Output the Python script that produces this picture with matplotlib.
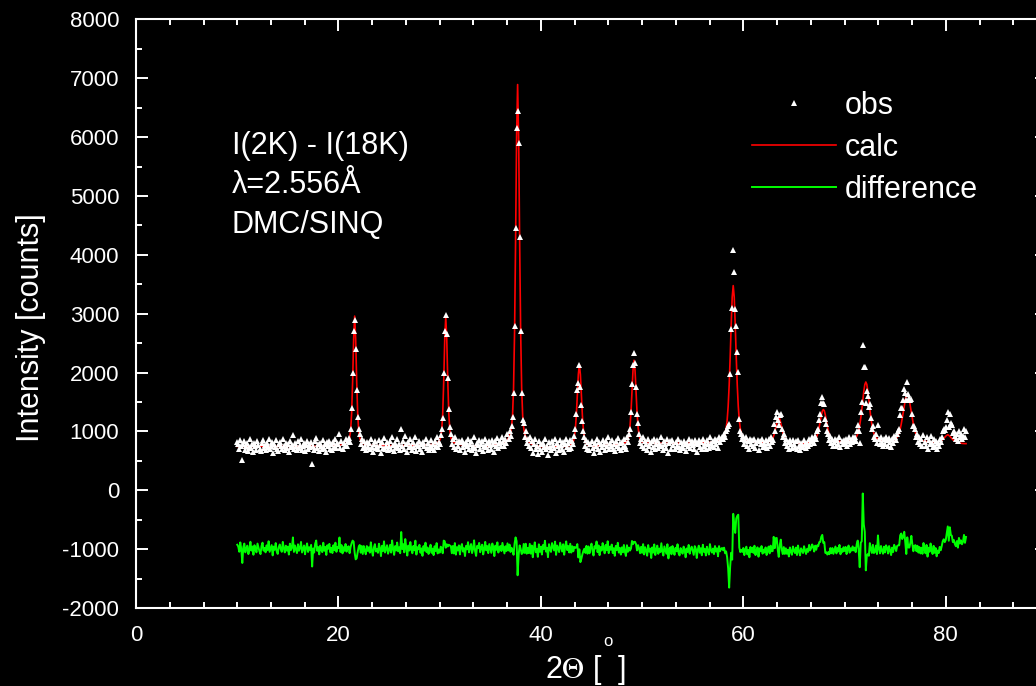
import numpy as np
import matplotlib.pyplot as plt
from matplotlib.ticker import MultipleLocator

plt.rcParams['font.family'] = ['Liberation Sans', 'DejaVu Sans']
plt.rcParams['axes.unicode_minus'] = False
plt.rcParams['mathtext.fontset'] = 'stix'

# 2theta scan, 10..82 deg in 0.1 deg steps
two_theta = np.round(np.arange(10.0, 82.05, 0.1), 1)

# observed intensity, one row per degree
obs = [
    820, 790, 700, 860, 745, 510, 780, 840, 690, 760,  # 10
    805, 660, 735, 870, 720, 790, 650, 812, 745, 690,  # 11
    840, 775, 705, 660, 800, 855, 720, 765, 690, 810,  # 12
    730, 880, 700, 760, 815, 640, 790, 735, 850, 705,  # 13
    665, 780, 825, 745, 700, 870, 760, 690, 805, 720,  # 14
    790, 655, 840, 730, 775, 946, 700, 810, 745, 680,  # 15
    830, 720, 765, 870, 690, 750, 810, 660, 775, 845,  # 16
    700, 780, 735, 820, 453, 760, 690, 840, 895, 720,  # 17
    785, 660, 810, 745, 700, 860, 725, 790, 655, 820,  # 18
    760, 845, 700, 780, 690, 825, 740, 870, 715, 800,  # 19
    780, 963, 720, 840, 700, 810, 755, 880, 760, 845,  # 20
    890, 820, 1050, 1400, 2000, 2700, 2900, 2400, 1700, 1250,  # 21
    1050, 960, 780, 870, 720, 845, 760, 690, 825, 740,  # 22
    800, 705, 880, 735, 650, 790, 845, 720, 760, 695,  # 23
    850, 770, 640, 815, 725, 890, 700, 760, 825, 680,  # 24
    745, 830, 700, 905, 770, 660, 810, 735, 870, 720,  # 25
    790, 690, 1050, 760, 845, 705, 930, 780, 650, 820,  # 26
    735, 880, 760, 690, 815, 740, 905, 670, 795, 760,  # 27
    840, 705, 780, 655, 820, 745, 880, 720, 800, 690,  # 28
    760, 850, 715, 790, 680, 835, 760, 905, 740, 820,  # 29
    790, 940, 1036, 1235, 2000, 2700, 2974, 2650, 1900, 1380,  # 30
    1080, 950, 780, 880, 740, 905, 700, 820, 760, 845,  # 31
    690, 815, 860, 730, 785, 650, 820, 760, 880, 705,  # 32
    790, 845, 690, 760, 905, 720, 640, 810, 770, 860,  # 33
    700, 785, 830, 665, 760, 880, 735, 810, 690, 845,  # 34
    770, 700, 860, 795, 650, 830, 760, 890, 720, 810,  # 35
    840, 760, 905, 820, 745, 880, 810, 960, 870, 1000,  # 36
    930, 1100, 1250, 1650, 2800, 4450, 6150, 6450, 5900, 4300,  # 37
    2700, 1650, 1200, 1150, 900, 1000, 800, 870, 760, 905,  # 38
    720, 845, 640, 790, 880, 705, 760, 620, 830, 700,  # 39
    785, 650, 810, 740, 880, 695, 760, 600, 820, 730,  # 40
    690, 840, 775, 715, 865, 640, 800, 760, 690, 850,  # 41
    770, 700, 825, 650, 790, 880, 735, 810, 705, 860,  # 42
    720, 845, 790, 930, 1050, 1300, 1700, 1830, 2135, 1750,  # 43
    1450, 1180, 1000, 900, 760, 850, 700, 815, 690, 780,  # 44
    845, 720, 640, 800, 760, 880, 700, 815, 650, 790,  # 45
    730, 860, 780, 690, 835, 745, 900, 700, 810, 760,  # 46
    850, 705, 790, 660, 830, 760, 885, 720, 800, 690,  # 47
    820, 740, 870, 760, 700, 900, 820, 960, 1050, 1331,  # 48
    1813, 2124, 2333, 2163, 1760, 1300, 1144, 950, 800, 880,  # 49
    760, 900, 720, 840, 785, 690, 870, 760, 810, 650,  # 50
    830, 740, 880, 700, 795, 860, 720, 810, 750, 900,  # 51
    760, 690, 845, 780, 720, 880, 640, 800, 830, 710,  # 52
    850, 770, 700, 820, 760, 880, 730, 690, 815, 760,  # 53
    720, 840, 790, 660, 810, 750, 870, 720, 800, 840,  # 54
    770, 700, 850, 810, 650, 790, 860, 740, 820, 700,  # 55
    880, 760, 810, 700, 850, 780, 720, 900, 800, 760,  # 56
    830, 740, 880, 790, 850, 720, 900, 820, 870, 900,  # 57
    880, 950, 900, 1010, 1050, 1100, 1130, 1971, 2748, 3104,  # 58
    4078, 3710, 3087, 2787, 2350, 2011, 1218, 1000, 960, 880,  # 59
    920, 780, 860, 900, 760, 830, 700, 870, 780, 850,  # 60
    760, 880, 720, 800, 850, 690, 830, 780, 870, 740,  # 61
    810, 760, 850, 720, 800, 870, 760, 900, 820, 850,  # 62
    1133, 1000, 1246, 1331, 1200, 1107, 1280, 1303, 1050, 900,  # 63
    960, 800, 870, 760, 820, 700, 850, 780, 720, 860,  # 64
    790, 740, 830, 700, 860, 760, 690, 810, 770, 730,  # 65
    850, 780, 720, 810, 760, 880, 790, 830, 900, 870,  # 66
    800, 920, 880, 1000, 1050, 1200, 1300, 1480, 1586, 1478,  # 67
    1473, 1218, 1133, 1000, 960, 860, 920, 800, 870, 760,  # 68
    820, 880, 760, 850, 790, 900, 740, 830, 780, 860,  # 69
    800, 870, 750, 840, 900, 780, 860, 820, 900, 840,  # 70
    900, 840, 1000, 1105, 1000, 800, 1331, 1500, 2470, 2100,  # 71
    2090, 1480, 1688, 1600, 1416, 1473, 1235, 1048, 1100, 900,  # 72
    880, 960, 800, 1105, 870, 780, 900, 820, 760, 880,  # 73
    780, 900, 860, 760, 890, 820, 740, 870, 800, 930,  # 74
    900, 850, 960, 1000, 1050, 1280, 1390, 1390, 1540, 1728,  # 75
    1650, 1530, 1841, 1640, 1560, 1540, 1550, 1300, 1087, 1100,  # 76
    1050, 900, 960, 820, 900, 780, 870, 760, 940, 820,  # 77
    760, 900, 700, 850, 780, 920, 810, 740, 880, 760,  # 78
    840, 700, 800, 760, 870, 820, 900, 1000, 1050, 1020,  # 79
    1076, 1200, 1331, 1076, 1290, 1141, 1105, 980, 1000, 920,  # 80
    880, 960, 840, 1000, 900, 950, 880, 920, 1036, 900,  # 81
    1000,  # 82
]

# calculated profile on the same grid
calc = [
    745, 745, 745, 745, 745, 745, 745, 745, 745, 745,  # 10
    745, 745, 745, 745, 745, 745, 745, 745, 745, 745,  # 11
    745, 745, 745, 745, 745, 745, 745, 745, 745, 745,  # 12
    746, 746, 746, 746, 746, 746, 746, 746, 746, 746,  # 13
    746, 746, 746, 746, 746, 746, 746, 746, 746, 746,  # 14
    747, 747, 747, 747, 747, 747, 747, 747, 747, 747,  # 15
    747, 747, 747, 747, 747, 747, 747, 747, 747, 747,  # 16
    748, 748, 748, 748, 748, 748, 748, 748, 748, 748,  # 17
    749, 749, 750, 750, 751, 751, 752, 752, 753, 753,  # 18
    754, 755, 755, 756, 757, 758, 759, 760, 761, 762,  # 19
    765, 765, 768, 770, 772, 777, 783, 792, 803, 816,  # 20
    841, 889, 1011, 1300, 1855, 2573, 2960, 2573, 1855, 1300,  # 21
    1011, 889, 841, 816, 803, 792, 783, 777, 772, 770,  # 22
    768, 765, 764, 763, 762, 761, 760, 759, 759, 758,  # 23
    758, 758, 758, 758, 758, 758, 758, 758, 758, 758,  # 24
    758, 758, 758, 758, 758, 758, 758, 758, 758, 758,  # 25
    759, 759, 759, 759, 759, 759, 759, 759, 759, 759,  # 26
    759, 759, 760, 760, 760, 761, 761, 762, 762, 763,  # 27
    766, 767, 767, 768, 768, 769, 770, 770, 771, 772,  # 28
    773, 775, 778, 780, 782, 786, 793, 802, 813, 826,  # 29
    850, 898, 1018, 1305, 1855, 2567, 2950, 2567, 1855, 1305,  # 30
    1018, 898, 850, 826, 813, 802, 793, 786, 782, 780,  # 31
    779, 776, 773, 771, 769, 767, 765, 763, 762, 760,  # 32
    759, 758, 757, 756, 756, 755, 755, 754, 754, 754,  # 33
    753, 754, 754, 755, 755, 756, 756, 757, 758, 759,  # 34
    762, 763, 764, 766, 768, 770, 772, 775, 778, 781,  # 35
    787, 793, 799, 806, 818, 830, 842, 861, 892, 922,  # 36
    978, 1076, 1279, 1746, 2706, 4250, 6015, 6894, 6001, 4236,  # 37
    2692, 1732, 1265, 1062, 964, 908, 878, 847, 828, 815,  # 38
    796, 784, 777, 770, 764, 758, 755, 751, 748, 746,  # 39
    742, 741, 740, 739, 738, 737, 737, 736, 735, 735,  # 40
    737, 737, 737, 737, 737, 737, 738, 739, 740, 741,  # 41
    740, 741, 742, 745, 745, 748, 752, 756, 762, 769,  # 42
    779, 795, 826, 893, 1029, 1270, 1614, 1971, 2137, 1971,  # 43
    1613, 1269, 1028, 892, 825, 794, 778, 768, 761, 755,  # 44
    751, 749, 748, 749, 749, 750, 751, 751, 752, 754,  # 45
    755, 757, 759, 761, 763, 765, 766, 768, 768, 770,  # 46
    772, 772, 773, 773, 774, 775, 777, 779, 780, 783,  # 47
    789, 794, 799, 806, 816, 834, 865, 933, 1074, 1321,  # 48
    1674, 2039, 2210, 2039, 1675, 1322, 1076, 936, 869, 839,  # 49
    823, 815, 810, 807, 804, 802, 801, 802, 801, 800,  # 50
    800, 799, 800, 800, 800, 800, 800, 800, 800, 800,  # 51
    799, 799, 798, 798, 798, 797, 797, 797, 797, 797,  # 52
    797, 797, 797, 797, 797, 797, 797, 797, 797, 797,  # 53
    797, 797, 797, 798, 798, 798, 798, 798, 798, 798,  # 54
    798, 798, 799, 799, 800, 800, 801, 802, 803, 804,  # 55
    805, 806, 807, 808, 809, 811, 812, 814, 816, 818,  # 56
    820, 824, 827, 831, 836, 841, 848, 856, 865, 880,  # 57
    898, 925, 970, 1048, 1188, 1424, 1784, 2264, 2809, 3282,  # 58
    3478, 3284, 2811, 2266, 1786, 1426, 1190, 1050, 972, 927,  # 59
    900, 882, 867, 858, 850, 843, 838, 833, 829, 826,  # 60
    824, 822, 821, 820, 819, 818, 817, 817, 817, 817,  # 61
    818, 818, 820, 820, 823, 826, 832, 840, 856, 882,  # 62
    924, 984, 1059, 1141, 1210, 1238, 1210, 1141, 1059, 984,  # 63
    924, 882, 855, 839, 831, 825, 821, 818, 816, 815,  # 64
    810, 806, 803, 800, 798, 797, 796, 796, 796, 796,  # 65
    800, 801, 802, 804, 806, 808, 811, 815, 820, 828,  # 66
    841, 860, 891, 936, 1000, 1082, 1176, 1271, 1344, 1372,  # 67
    1354, 1281, 1186, 1092, 1010, 946, 901, 870, 851, 840,  # 68
    840, 835, 833, 830, 829, 828, 827, 827, 827, 827,  # 69
    831, 832, 834, 836, 838, 840, 844, 847, 853, 861,  # 70
    874, 891, 918, 959, 1020, 1107, 1223, 1365, 1524, 1678,  # 71
    1795, 1840, 1800, 1683, 1529, 1370, 1229, 1113, 1027, 966,  # 72
    926, 899, 883, 872, 862, 852, 846, 841, 838, 837,  # 73
    836, 835, 835, 835, 837, 839, 841, 844, 850, 856,  # 74
    867, 882, 905, 937, 984, 1044, 1124, 1219, 1324, 1433,  # 75
    1533, 1612, 1640, 1612, 1533, 1433, 1324, 1218, 1123, 1043,  # 76
    982, 935, 902, 879, 864, 853, 846, 840, 836, 833,  # 77
    831, 828, 827, 825, 825, 824, 824, 823, 823, 823,  # 78
    821, 822, 823, 827, 832, 840, 850, 865, 882, 901,  # 79
    920, 934, 945, 933, 918, 898, 878, 860, 845, 836,  # 80
    830, 822, 815, 809, 804, 800, 797, 795, 794, 793,  # 81
    793,  # 82
]

diff_offset = -1000
diff = np.array(obs) - np.array(calc) + diff_offset

fig = plt.figure(figsize=(10.36, 6.86), dpi=100, facecolor='black')
ax = fig.add_axes([0.1313, 0.1137, 0.8793, 0.8579])
ax.set_facecolor('black')

ax.plot(two_theta, calc, color='#ff0000', lw=1.2, label='calc', zorder=2)
ax.plot(two_theta, diff, color='#00ff00', lw=1.4, label='difference', zorder=2)
ax.plot(two_theta, obs, ls='none', marker='^', ms=4.5, mfc='white', mec='white',
        mew=0, label='obs', zorder=3)

ax.set_xlim(0, 90)
ax.set_ylim(-2000, 8000)
ax.xaxis.set_major_locator(MultipleLocator(20))
ax.xaxis.set_minor_locator(MultipleLocator(20 / 6))
ax.yaxis.set_major_locator(MultipleLocator(1000))
ax.yaxis.set_minor_locator(MultipleLocator(500))

for s in ax.spines.values():
    s.set_color('white')
    s.set_linewidth(1.5)
ax.tick_params(which='both', direction='in', colors='white', top=True, right=True,
               labelsize=16, pad=12, width=1.4)
ax.tick_params(which='major', length=8.6)
ax.tick_params(which='minor', length=4.3)

ax.set_xlabel(r'2$\Theta$ [  ]', fontsize=22, color='white')
ax.xaxis.set_label_coords(0.493, -0.076)
fig.text(608 / 1036, 1 - 646 / 686, 'o', fontsize=12, color='white',
         ha='center', va='baseline')
ax.set_ylabel('Intensity [counts]', fontsize=22, color='white')
ax.yaxis.set_label_coords(-0.099, 0.476)

ax.text(0.105, 0.811, 'I(2K) - I(18K)\nλ=2.556Å\nDMC/SINQ',
        transform=ax.transAxes, fontsize=22, color='white', va='top', ha='left',
        linespacing=1.42)

h, l = ax.get_legend_handles_labels()
order = [2, 0, 1]
ax.legend([h[i] for i in order], [l[i] for i in order], loc='upper left',
          bbox_to_anchor=(0.676, 0.879), frameon=False, fontsize=22,
          labelcolor='white', handlelength=2.75, handletextpad=0.3,
          labelspacing=0.4, borderpad=0, borderaxespad=0, numpoints=1)

fig.savefig('out.png', dpi=100, facecolor='black')
